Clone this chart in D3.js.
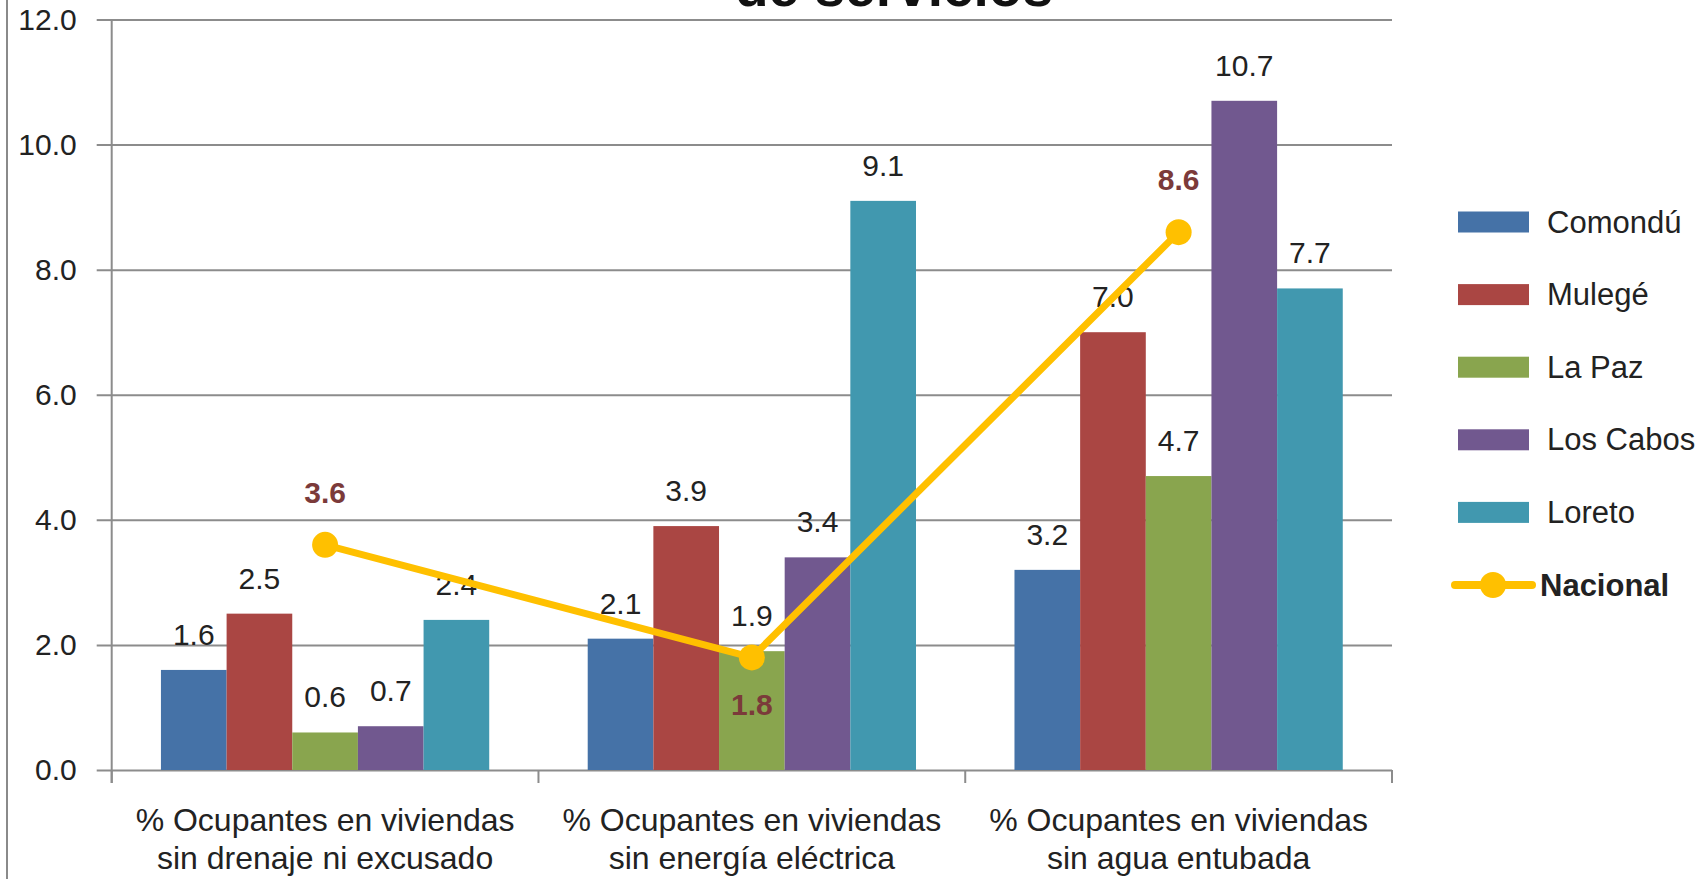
<!DOCTYPE html>
<html>
<head>
<meta charset="utf-8">
<script src="https://cdn.jsdelivr.net/npm/d3@7"></script>
<style>
    body { margin: 0; background: #fff; }
    svg { display: block; font-family: "Liberation Sans", Arial, sans-serif; }
</style>
</head>
<body>
<svg id="grafico"></svg>
<script>
// datos del grafico
var categorias = [
    "% Ocupantes en viviendas|sin drenaje ni excusado",
    "% Ocupantes en viviendas|sin energía eléctrica",
    "% Ocupantes en viviendas|sin agua entubada"
]
var municipios = ["Comondú", "Mulegé", "La Paz", "Los Cabos", "Loreto"]
var comondu = [1.6, 2.1, 3.2]
var mulege = [2.5, 3.9, 7.0]
var lapaz = [0.6, 1.9, 4.7]
var loscabos = [0.7, 3.4, 10.7]
var loreto = [2.4, 9.1, 7.7]
var nacional = [3.6, 1.8, 8.6]
var ticksY = [0, 2, 4, 6, 8, 10, 12]
var cores = ["#4572A7", "#AA4643", "#89A54E", "#71588F", "#4198AF"]
var corNacional = "#FFC000"

var series = [comondu, mulege, lapaz, loscabos, loreto]

const width = 1700
const height = 879
const esquerda = 111.7
const direita = 1392
const base = 770
const topo = 19.5

var svg = d3.select("#grafico")
    .attr("width", width)
    .attr("height", height)

// escalas
var x0 = d3.scaleBand()
    .domain(categorias)
    .range([esquerda, direita])
    .paddingInner(0)
    .paddingOuter(0)

var x1 = d3.scaleBand()
    .domain(municipios)
    .range([0, x0.bandwidth()])
    .paddingInner(0)
    .paddingOuter(0.75)

var y = d3.scaleLinear()
    .domain([0, 12])
    .range([base, topo])

var cor = d3.scaleOrdinal().domain(municipios).range(cores)

// borda esquerda do quadro
svg.append("line")
    .attr("x1", 7).attr("x2", 7)
    .attr("y1", 0).attr("y2", height)
    .attr("stroke", "#8a8a8a")
    .attr("stroke-width", 2)

// titulo (cortado no topo)
svg.append("text")
    .attr("x", 894)
    .attr("y", 6)
    .attr("text-anchor", "middle")
    .style("font-size", "55px")
    .style("font-weight", "bold")
    .style("fill", "#111")
    .text("de servicios")

// linhas de grade + eixo y
var eixoY = d3.axisLeft(y)
    .tickValues(ticksY)
    .tickFormat(d3.format(".1f"))
    .tickSizeInner(-(direita - esquerda))
    .tickSizeOuter(0)
    .tickPadding(35)

var gY = svg.append("g")
    .attr("transform", "translate(" + esquerda + ",0)")
    .call(eixoY)
gY.select(".domain").remove()
gY.selectAll(".tick line")
    .attr("x1", -15)
    .attr("stroke", "#8c8c8c")
    .attr("stroke-width", 2)
gY.selectAll(".tick text")
    .style("font-size", "30px")
    .style("font-family", "'Liberation Sans', Arial, sans-serif")
    .style("fill", "#222")

// eixo vertical
svg.append("line")
    .attr("x1", esquerda).attr("x2", esquerda)
    .attr("y1", topo).attr("y2", base + 13)
    .attr("stroke", "#8c8c8c")
    .attr("stroke-width", 2)

// marcas das categorias
var limites = categorias.map(c => x0(c)).concat([direita])
svg.append("g")
    .selectAll("line")
    .data(limites)
    .join("line")
    .attr("x1", d => d).attr("x2", d => d)
    .attr("y1", base).attr("y2", base + 13)
    .attr("stroke", "#8c8c8c")
    .attr("stroke-width", 2)

// rotulos das categorias
var rotCat = svg.append("g")
    .selectAll("text")
    .data(categorias)
    .join("text")
    .attr("text-anchor", "middle")
    .style("font-size", "32px")
    .style("fill", "#222")
rotCat.selectAll("tspan")
    .data(d => d.split("|").map(l => ({ cat: d, linha: l })))
    .join("tspan")
    .attr("x", d => x0(d.cat) + x0.bandwidth() / 2)
    .attr("y", (d, i) => 831 + i * 38)
    .text(d => d.linha)

// barras
var dadosBarras = []
categorias.forEach(function(c, i) {
    municipios.forEach(function(m, j) {
        dadosBarras.push({ cat: c, mun: m, valor: series[j][i] })
    })
})

svg.append("g")
    .selectAll("rect")
    .data(dadosBarras)
    .join("rect")
    .attr("x", d => x0(d.cat) + x1(d.mun))
    .attr("y", d => y(d.valor))
    .attr("width", x1.bandwidth())
    .attr("height", d => base - y(d.valor))
    .style("fill", d => cor(d.mun))

// rotulos das barras
svg.append("g")
    .selectAll("text")
    .data(dadosBarras)
    .join("text")
    .attr("x", d => x0(d.cat) + x1(d.mun) + x1.bandwidth() / 2)
    .attr("y", d => y(d.valor) - 25)
    .attr("text-anchor", "middle")
    .style("font-size", "30px")
    .style("fill", "#222")
    .text(d => d3.format(".1f")(d.valor))

// linha nacional
var dadosNac = categorias.map((c, i) => ({ cat: c, valor: nacional[i] }))
var xNac = d => x0(d.cat) + x0.bandwidth() / 2

svg.append("path")
    .datum(dadosNac)
    .attr("d", d3.line().x(xNac).y(d => y(d.valor)))
    .attr("fill", "none")
    .attr("stroke", corNacional)
    .attr("stroke-width", 7)
    .attr("stroke-linejoin", "round")

svg.append("g")
    .selectAll("circle")
    .data(dadosNac)
    .join("circle")
    .attr("cx", xNac)
    .attr("cy", d => y(d.valor))
    .attr("r", 13)
    .style("fill", corNacional)

// o 1.8 fica abaixo do ponto
svg.append("g")
    .selectAll("text")
    .data(dadosNac)
    .join("text")
    .attr("x", xNac)
    .attr("y", (d, i) => i == 1 ? y(d.valor) + 58 : y(d.valor) - 42)
    .attr("text-anchor", "middle")
    .style("font-size", "30px")
    .style("font-weight", "bold")
    .style("fill", "#7B3A3A")
    .text(d => d3.format(".1f")(d.valor))

// legenda
var legY = d3.scalePoint()
    .domain(municipios.concat(["Nacional"]))
    .range([222, 585])

var leg = svg.append("g")
leg.selectAll("rect")
    .data(municipios)
    .join("rect")
    .attr("x", 1458)
    .attr("y", d => legY(d) - 10.5)
    .attr("width", 71)
    .attr("height", 21)
    .style("fill", d => cor(d))

leg.append("line")
    .attr("x1", 1455).attr("x2", 1532)
    .attr("y1", legY("Nacional")).attr("y2", legY("Nacional"))
    .attr("stroke", corNacional)
    .attr("stroke-width", 8)
    .attr("stroke-linecap", "round")
leg.append("circle")
    .attr("cx", 1493)
    .attr("cy", legY("Nacional"))
    .attr("r", 13)
    .style("fill", corNacional)

leg.selectAll("text")
    .data(municipios.concat(["Nacional"]))
    .join("text")
    .attr("x", d => d == "Nacional" ? 1540 : 1547)
    .attr("y", d => legY(d))
    .attr("dominant-baseline", "central")
    .style("font-size", "31px")
    .style("font-weight", d => d == "Nacional" ? "bold" : "normal")
    .style("fill", "#222")
    .text(d => d)
</script>
</body>
</html>
